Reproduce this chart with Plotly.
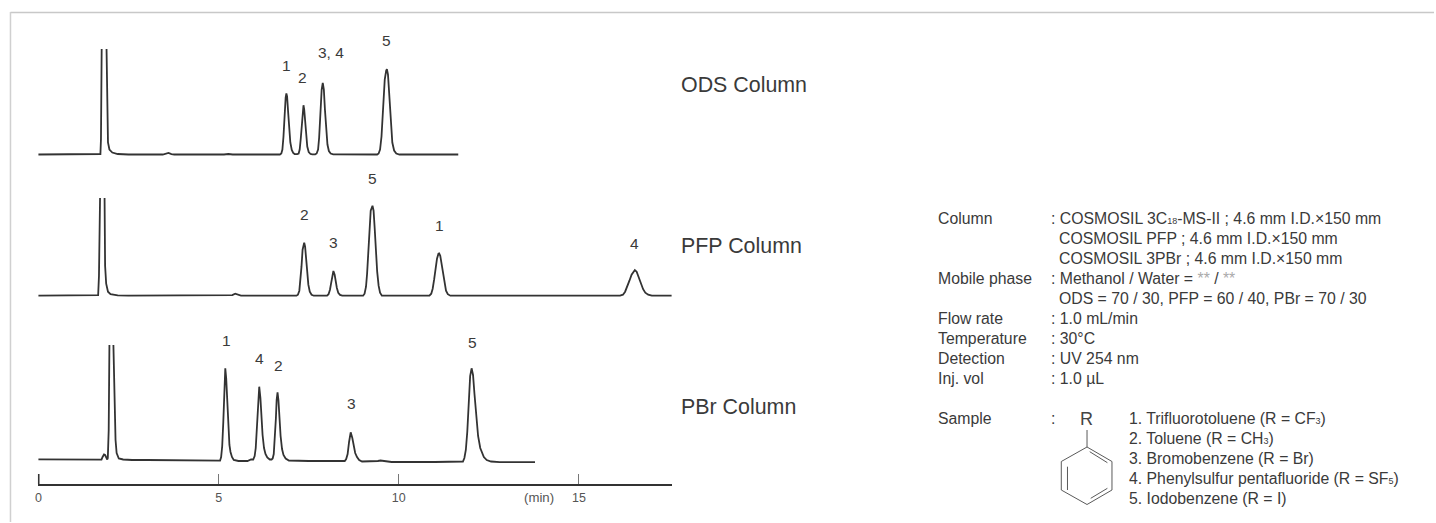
import plotly.graph_objects as go

# ---------- data: retention time (min) / detector signal (arbitrary units) ----------
ODS_TIME = [0, 1.70, 1.72, 1.735, 1.76, 1.82, 1.89, 1.91, 1.93, 1.97, 2.05, 2.2, 2.5,
            3.45, 3.53, 3.61, 3.69, 3.77, 5.15, 5.27, 5.39,
            6.70, 6.74, 6.77, 6.80, 6.83, 6.86, 6.88, 6.90, 6.93, 6.96, 6.99, 7.03, 7.07, 7.11, 7.15,
            7.18, 7.22, 7.25, 7.28, 7.31, 7.335, 7.355, 7.375, 7.40, 7.43, 7.46, 7.50, 7.55, 7.60,
            7.68, 7.72, 7.76, 7.79, 7.82, 7.86, 7.89, 7.92, 7.95, 7.98, 8.02, 8.06, 8.11, 8.18,
            9.40, 9.44, 9.48, 9.52, 9.56, 9.61, 9.65, 9.67, 9.70, 9.74, 9.78, 9.82, 9.87, 9.93, 10.02,
            11.65]
ODS_SIGNAL = [0, 0, 0.5, 15, 106, 400, 106, 35, 12, 5, 2, 0.5, 0,
              0, 0.4, 1.5, 0.4, 0, 0, 0.5, 0,
              0, 1, 5, 18, 40, 57, 61, 58, 42, 24, 12, 4.5, 1.5, 0.5, 0.3,
              0.3, 1, 5, 16, 33, 46, 49.3, 45, 32, 17, 8, 2.5, 0.5, 0.2,
              0.2, 1, 5, 17, 38, 65, 71.7, 65, 45, 26, 10, 3.5, 1, 0.2,
              0, 1, 5, 18, 42, 75, 84, 85.3, 80, 55, 29, 12, 4, 1, 0,
              0]

PFP_TIME = [0, 1.64, 1.657, 1.68, 1.71, 1.77, 1.82, 1.85, 1.88, 1.93, 2.0, 2.2, 2.5,
            5.30, 5.38, 5.46, 5.54, 5.62,
            7.16, 7.20, 7.24, 7.27, 7.30, 7.33, 7.35, 7.375, 7.40, 7.43, 7.46, 7.49, 7.53, 7.58, 7.64,
            8.01, 8.05, 8.09, 8.12, 8.15, 8.185, 8.22, 8.25, 8.28, 8.32, 8.37, 8.43,
            9.01, 9.05, 9.09, 9.12, 9.15, 9.18, 9.22, 9.27, 9.30, 9.33, 9.36, 9.40, 9.44, 9.48, 9.53,
            10.85, 10.90, 10.94, 10.98, 11.02, 11.06, 11.10, 11.12, 11.15, 11.19, 11.23, 11.27, 11.31, 11.36, 11.43,
            16.14, 16.22, 16.28, 16.34, 16.40, 16.46, 16.52, 16.55, 16.60, 16.66, 16.72, 16.78, 16.84, 16.92, 17.02,
            17.63]
PFP_SIGNAL = [0, 0, 0.5, 20, 98, 400, 98, 30, 12, 4, 1.5, 0.3, 0,
              0, 0.6, 2, 0.6, 0,
              0, 1, 5, 14, 29, 46, 51, 53, 49, 35, 21, 11, 4, 1, 0,
              0, 1.5, 6, 12, 20, 24.7, 21, 14, 8, 3, 0.8, 0,
              0, 2, 9, 22, 42, 64, 85, 90, 85, 68, 47, 24, 10, 3, 0,
              0, 2, 7, 16, 27, 37, 42, 42.3, 40, 31, 20, 11, 5, 1.5, 0,
              0, 1, 4, 9, 15, 21, 25, 25.7, 24, 18, 12, 6.5, 3, 1, 0,
              0]

PBR_TIME = [0, 1.0, 1.7, 1.75, 1.78, 1.82, 1.85, 1.88, 1.91, 1.925, 1.95, 1.97, 2.03, 2.08, 2.11, 2.14, 2.17, 2.23, 2.35, 2.6,
            3.0, 4.0,
            5.04, 5.07, 5.10, 5.13, 5.16, 5.185, 5.21, 5.24, 5.27, 5.30, 5.33, 5.37, 5.42, 5.55, 5.80, 5.85, 5.90, 5.96,
            6.00, 6.03, 6.06, 6.09, 6.127, 6.16, 6.19, 6.22, 6.26, 6.30, 6.35, 6.42, 6.47,
            6.50, 6.53, 6.56, 6.59, 6.61, 6.635, 6.66, 6.69, 6.72, 6.76, 6.80, 6.86, 6.95,
            7.5, 8.4,
            8.50, 8.54, 8.58, 8.62, 8.665, 8.71, 8.75, 8.79, 8.84, 8.90, 8.98, 9.3, 9.42, 9.49, 9.56, 9.8, 11.0,
            11.78, 11.82, 11.86, 11.90, 11.94, 11.98, 12.02, 12.06, 12.10, 12.15, 12.20, 12.26, 12.30, 12.36, 12.44, 12.56, 12.8,
            13.78]
PBR_SIGNAL = [0.7, 0.3, 0, 0.3, 3, 5.5, 5, 1.5, 0.5, 2, 30, 116, 400, 116, 50, 20, 7, 1.5, 0.5, 0,
              0, -0.5,
              -0.7, 3, 14, 38, 72, 91.7, 82, 54, 30, 15, 8, 3, 0, -1, -1, 0, 0.5, 0.5,
              4, 12, 33, 58, 73.3, 62, 42, 25, 12, 6, 2.5, 0.5, 0.5,
              1.5, 6, 20, 42, 60, 67.7, 60, 40, 24, 11, 5, 1.5, -0.5,
              -1, -1.5,
              -1, 1, 6, 18, 27.7, 22, 13, 7, 3, 0, -1.5, -1.5, -1, -0.5, -1, -2, -2,
              -1.5, 2, 10, 28, 55, 84, 91.7, 85, 66, 45, 24, 12, 8, 3, 0, -1.5, -2.2,
              -2.2]

TICK_VALUES = [0, 5, 10, 15]
TICK_LABELS = ["0", "5", "10", "15"]

COLUMN_NAMES = ["ODS Column", "PFP Column", "PBr Column"]
PEAK_LABELS = ["1", "2", "3, 4", "5", "2", "3", "5", "1", "4", "1", "4", "2", "3", "5"]

SMALL = '<span style="font-size:9px">%s</span>'
GREY = '<span style="color:#aaaaaa">**</span>'
COND_NAMES = ["Column", "", "", "Mobile phase", "", "Flow rate", "Temperature", "Detection", "Inj. vol"]
COND_VALUES = [
    ": COSMOSIL 3C" + SMALL % "18" + "-MS-II ; 4.6 mm I.D.×150 mm",
    "  COSMOSIL PFP ; 4.6 mm I.D.×150 mm",
    "  COSMOSIL 3PBr ; 4.6 mm I.D.×150 mm",
    ": Methanol / Water = " + GREY + " / " + GREY,
    "  ODS = 70 / 30, PFP = 60 / 40, PBr = 70 / 30",
    ": 1.0 mL/min",
    ": 30°C",
    ": UV 254 nm",
    ": 1.0 µL",
]
SAMPLES = [
    "1. Trifluorotoluene (R = CF" + SMALL % "3" + ")",
    "2. Toluene (R = CH" + SMALL % "3" + ")",
    "3. Bromobenzene (R = Br)",
    "4. Phenylsulfur pentafluoride (R = SF" + SMALL % "5" + ")",
    "5. Iodobenzene (R = I)",
]

# ---------- layout helpers (pixel positions on the 1436x523 page) ----------
W, H = 1436, 523
PAGE_SHIFT = 2  # the rendered page sits this many pixels right of the requested position
INK = "#3a3a3a"
FONT = "Liberation Sans"
TEXT_SIZE = 15.8


def px(x):
    return (x - PAGE_SHIFT) / W


def py(y):
    return 1 - y / H


def label(text, x, y, size=15.5, anchor="center", color=INK):
    shift = 0 if anchor == "center" else -1
    return dict(text=text, x=px(x + shift), y=py(y), xref="paper", yref="paper", showarrow=False,
                xanchor=anchor, yanchor="middle", align="left",
                font=dict(size=size, color=color, family=FONT))


def seg(x0, y0, x1, y1, color="#5a5a5a", width=1):
    return dict(type="line", xref="paper", yref="paper", x0=px(x0), y0=py(y0), x1=px(x1), y1=py(y1),
                line=dict(color=color, width=width))


fig = go.Figure()
for t, s, ax in [(ODS_TIME, ODS_SIGNAL, "y"), (PFP_TIME, PFP_SIGNAL, "y2"), (PBR_TIME, PBR_SIGNAL, "y3")]:
    fig.add_trace(go.Scatter(x=t, y=s, mode="lines", yaxis=ax, xaxis="x", hoverinfo="skip",
                             line=dict(color="#333333", width=1.8)))

annotations = []
for name, y in zip(COLUMN_NAMES, [85, 246, 407]):
    annotations.append(label(name, 680, y, size=21.4, anchor="left"))
peak_pos = [(286, 65), (302.5, 77), (331, 53), (386, 41),
            (304, 214.5), (333.5, 242), (372, 178), (439.5, 225.5), (635, 243),
            (226, 340), (259, 358), (278, 365), (351, 403), (472.5, 342)]
for txt, (x, y) in zip(PEAK_LABELS, peak_pos):
    annotations.append(label(txt, x, y))
annotations.append(label("(min)", 539, 497, size=13.2, color="#555555"))

cond_y = [218.5, 238.5, 258.5, 278.5, 298.5, 318.5, 338.5, 358.5, 378.5]
for name, val, y in zip(COND_NAMES, COND_VALUES, cond_y):
    if name:
        annotations.append(label(name, 938, y, size=TEXT_SIZE, anchor="left"))
    if val.startswith("  "):
        annotations.append(label(val.strip(), 1059.5, y, size=TEXT_SIZE, anchor="left"))
    else:
        annotations.append(label(val, 1051, y, size=TEXT_SIZE, anchor="left"))
annotations.append(label("Sample", 938, 418.5, size=TEXT_SIZE, anchor="left"))
annotations.append(label(":", 1051, 418.5, size=TEXT_SIZE, anchor="left"))
annotations.append(label("R", 1087.5, 418.5, size=18, color="#444444"))
for s, y in zip(SAMPLES, [418.5, 438.5, 458.5, 478.5, 498.5]):
    annotations.append(label(s, 1129, y, size=TEXT_SIZE, anchor="left"))

shapes = [
    seg(9.5, 12.5, W, 12.5, color="#c8c8c8", width=1.5),
    seg(9.5, 12, 9.5, 522, color="#d0d0d0", width=1.5),
    # thick zero tick of the time axis
    dict(type="line", xref="x", yref="paper", x0=0, x1=0, y0=py(484), y1=py(474),
         line=dict(color="#333333", width=2.2)),
    # phenyl ring
    seg(1088.3, 430, 1088.3, 447),
    seg(1088.3, 447, 1113.3, 461.5), seg(1113.3, 461.5, 1113.3, 490), seg(1113.3, 490, 1088.3, 504.5),
    seg(1088.3, 504.5, 1062.5, 490), seg(1062.5, 490, 1062.5, 461.5), seg(1062.5, 461.5, 1088.3, 447),
    seg(1091, 451.7, 1108.7, 462.7), seg(1068.7, 466.7, 1068.7, 490), seg(1092, 498.3, 1108.7, 488.3),
]

hidden = dict(visible=False, fixedrange=True, anchor="x")
fig.update_layout(
    width=W, height=H, margin=dict(l=0, r=0, t=0, b=0, pad=0),
    paper_bgcolor="white", plot_bgcolor="white", showlegend=False,
    xaxis=dict(domain=[px(37), px(672)], range=[-0.014, 17.57], anchor="y3",
               tickmode="array", tickvals=TICK_VALUES, ticktext=TICK_LABELS,
               ticks="inside", ticklen=10, tickwidth=1, tickcolor="#777777",
               showgrid=False, zeroline=False, showline=True, linecolor="#333333", linewidth=2.4,
               ticklabelstandoff=1,
               tickfont=dict(size=12.5, color="#555555", family=FONT)),
    yaxis=dict(domain=[py(158), py(49)], range=[-3.5, 105.5], **hidden),
    yaxis2=dict(domain=[py(299), py(198)], range=[-3.3, 97.7], **hidden),
    yaxis3=dict(domain=[py(484), py(345)], range=[-24, 115], **hidden),
    annotations=annotations, shapes=shapes,
)

fig.write_html("out.html", config=dict(displayModeBar=False),
               post_script="document.body.style.margin='0';"
                           "var d=document.querySelector('.plotly-graph-div');"
                           "d.style.position='absolute';d.style.left='0';d.style.top='0';")
